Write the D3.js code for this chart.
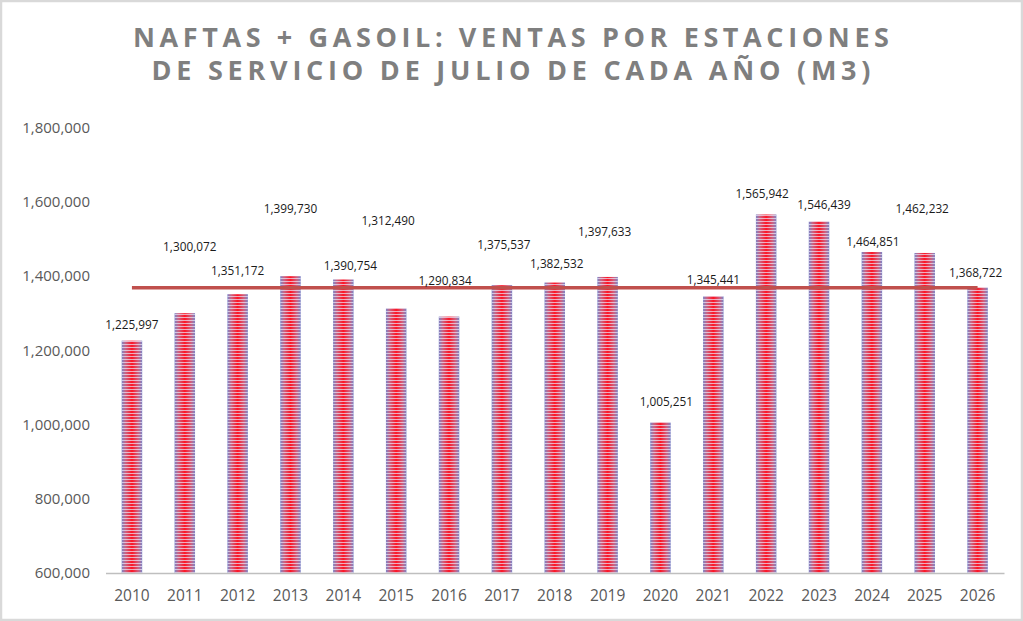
<!DOCTYPE html>
<html><head><meta charset="utf-8">
<script src="https://cdn.jsdelivr.net/npm/d3@7"></script>
<style>
html,body{margin:0;padding:0;background:#fff;}
svg{display:block;}
</style></head>
<body>
<svg id="chart" width="1023" height="621"></svg>
<script>
// ---- data ----
const years = ["2010","2011","2012","2013","2014","2015","2016","2017","2018","2019","2020","2021","2022","2023","2024","2025","2026"];
const sales = [1225997,1300072,1351172,1399730,1390754,1312490,1290834,1375537,1382532,1397633,1005251,1345441,1565942,1546439,1464851,1462232,1368722];
const referenceLine = [1368722,1368722,1368722,1368722,1368722,1368722,1368722,1368722,1368722,1368722,1368722,1368722,1368722,1368722,1368722,1368722,1368722];
const yTicks = [600000,800000,1000000,1200000,1400000,1600000,1800000];
const titleLines = ["NAFTAS + GASOIL: VENTAS POR ESTACIONES","DE SERVICIO DE JULIO DE CADA AÑO (M3)"];

// ---- layout (label nudges in px relative to bar top centre) ----
const labelDx = [0,5,0,0,7,-8,-4,2,2,-3,6,0,-4,5,1,-2.5,-2];
const labelDy = [-16,-66,-23,-67,-14,-88,-36,-40,-19,-45.5,-21,-16.6,-21,-17,-10.6,-44,-15];

const svg = d3.select("#chart");
const W = 1023, H = 621;

svg.append("rect").attr("x",1).attr("y",1).attr("width",W-2).attr("height",H-2)
  .attr("fill","#fff").attr("stroke","#d9d9d9").attr("stroke-width",2.5);

const x = d3.scaleBand().domain(years).range([105.5,1004]).paddingInner(0.612).paddingOuter(0.306);
const y = d3.scaleLinear().domain([600000,1800000]).range([573,127.6]);

const defs = svg.append("defs");
const grad = defs.append("linearGradient").attr("id","barGrad").attr("x1","0").attr("x2","1").attr("y1","0").attr("y2","0");
[[0,"#7c86c8"],[0.2,"#d0607e"],[0.5,"#ff1424"],[0.8,"#d0607e"],[1,"#7c86c8"]].forEach(s=>
  grad.append("stop").attr("offset",s[0]).attr("stop-color",s[1]));
const pat = defs.append("pattern").attr("id","stripes").attr("patternUnits","userSpaceOnUse")
  .attr("width",4).attr("height",3);
pat.append("rect").attr("x",0).attr("y",2).attr("width",4).attr("height",1).attr("fill","rgba(235,232,250,0.7)");

// bars
const bars = svg.append("g");
bars.selectAll("rect.bar").data(sales).join("rect").attr("class","bar")
  .attr("x",(d,i)=>x(years[i])).attr("width",x.bandwidth())
  .attr("y",d=>y(d)).attr("height",d=>y(600000)-y(d))
  .attr("fill","url(#barGrad)");
bars.selectAll("rect.str").data(sales).join("rect").attr("class","str")
  .attr("x",(d,i)=>x(years[i])).attr("width",x.bandwidth())
  .attr("y",d=>y(d)).attr("height",d=>y(600000)-y(d))
  .attr("fill","url(#stripes)");

// y axis
const ya = svg.append("g").attr("transform","translate(90,0)")
  .call(d3.axisLeft(y).tickValues(yTicks).tickSize(0).tickPadding(0).tickFormat(d3.format(",")));
ya.select(".domain").remove();
ya.selectAll("text").attr("font-family","'Open Sans'").attr("font-size",15).attr("fill","#595959");

// x axis
const xa = svg.append("g").attr("transform","translate(0,573)")
  .call(d3.axisBottom(x).tickSize(0).tickPadding(17));
xa.select(".domain").attr("stroke","#bfbfbf").attr("stroke-width",1.5);
xa.selectAll("text").attr("font-family","'Open Sans'").attr("font-size",15.5).attr("fill","#595959");

// reference line
const line = d3.line().x((d,i)=>x(years[i])+x.bandwidth()/2).y(d=>y(d));
svg.append("path").datum(referenceLine).attr("d",line)
  .attr("fill","none").attr("stroke","#c0504d").attr("stroke-width",3.5);

// data labels
svg.append("g").selectAll("text").data(sales).join("text")
  .attr("x",(d,i)=>x(years[i])+x.bandwidth()/2+labelDx[i])
  .attr("y",(d,i)=>y(d)+labelDy[i])
  .attr("dy","0.35em")
  .attr("text-anchor","middle")
  .attr("font-family","'Open Sans'").attr("font-size",11.8).attr("fill","#1a1a1a")
  .text(d=>d3.format(",")(d));

// title
const tl = [{x:133,w:756,yb:46.7},{x:151.5,w:719,yb:80.2}];
svg.append("g").selectAll("text").data(titleLines).join("text")
  .attr("x",(d,i)=>tl[i].x).attr("y",(d,i)=>tl[i].yb)
  .attr("textLength",(d,i)=>tl[i].w).attr("lengthAdjust","spacing")
  .attr("font-family","'Open Sans'").attr("font-weight","bold").attr("font-size",27)
  .attr("fill","#7f7f7f")
  .text(d=>d);
</script>
</body></html>
